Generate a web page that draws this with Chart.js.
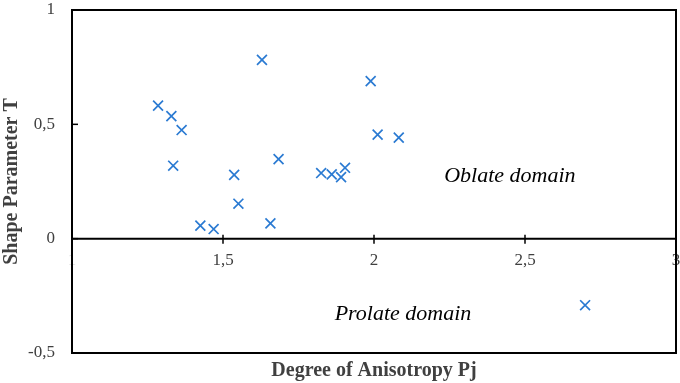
<!DOCTYPE html>
<html><head><meta charset="utf-8">
<script src="https://cdn.jsdelivr.net/npm/chart.js@4.4.1/dist/chart.umd.min.js"></script>
<style>html,body{margin:0;padding:0;background:#fff}canvas{display:block}</style>
</head><body>
<canvas id="c" width="680" height="383"></canvas>
<script>
const pjValues = [1.285,1.329,1.363,1.335,1.425,1.469,1.537,1.551,1.629,1.657,1.684,1.825,1.860,1.891,1.904,1.989,2.012,2.082,2.699];
const tValues  = [0.582,0.536,0.475,0.319,0.057,0.042,0.279,0.153,0.782,0.067,0.348,0.287,0.281,0.269,0.310,0.689,0.455,0.442,-0.291];
const xTickValues = [1,1.5,2,2.5,3];
const xTickLabels = ['1','1,5','2','2,5','3'];
const yTickValues = [-0.5,0,0.5,1];
const yTickLabels = ['-0,5','0','0,5','1'];
const domainLabels = ['Oblate domain','Prolate domain'];
const domainPj = [2.45, 2.096];
const domainT = [0.271, -0.329];
const xTitle = 'Degree of Anisotropy Pj';
const yTitle = 'Shape Parameter T';

const FONT = '"Liberation Serif", "Times New Roman", serif';
const TEXT = '#404040';
const MARK = '#2A7AD2';

const framePlugin = {
  id: 'frame',
  beforeDatasetsDraw(chart) {
    const {ctx, chartArea: a, scales} = chart;
    const xs = scales.x, ys = scales.y;
    const y0 = ys.getPixelForValue(0);
    ctx.save();
    ctx.strokeStyle = '#000';
    ctx.lineWidth = 2;
    ctx.strokeRect(a.left, a.top, a.right - a.left, a.bottom - a.top);
    ctx.beginPath();
    ctx.moveTo(a.left, y0); ctx.lineTo(a.right, y0);
    ctx.stroke();
    ctx.lineWidth = 1.5;
    xs.ticks.forEach(t => {
      const px = xs.getPixelForValue(t.value);
      ctx.beginPath(); ctx.moveTo(px, y0 - 4); ctx.lineTo(px, y0 + 5); ctx.stroke();
    });
    ys.ticks.forEach(t => {
      const py = ys.getPixelForValue(t.value);
      ctx.beginPath(); ctx.moveTo(a.left, py); ctx.lineTo(a.left + 6, py); ctx.stroke();
    });
    ctx.fillStyle = '#000';
    ctx.font = 'italic 22px ' + FONT;
    ctx.textAlign = 'center';
    ctx.textBaseline = 'middle';
    domainLabels.forEach((s, i) => {
      ctx.fillText(s, xs.getPixelForValue(domainPj[i]), ys.getPixelForValue(domainT[i]));
    });
    ctx.restore();
  }
};

new Chart(document.getElementById('c'), {
  type: 'scatter',
  data: {
    datasets: [{
      data: pjValues.map((x, i) => ({x: x, y: tValues[i]})),
      pointStyle: 'crossRot',
      pointRadius: 7,
      borderColor: MARK,
      backgroundColor: MARK,
      borderWidth: 1.7,
      clip: false
    }]
  },
  options: {
    responsive: false,
    devicePixelRatio: 1,
    animation: false,
    layout: {autoPadding: false, padding: {top: 10, right: 4, left: 0, bottom: 0}},
    plugins: {legend: {display: false}, tooltip: {enabled: false}},
    scales: {
      x: {
        type: 'linear', position: {y: 0}, min: 1, max: 3,
        afterBuildTicks: s => { s.ticks = xTickValues.map(v => ({value: v})); },
        afterFit: s => { s.paddingLeft = 0; s.paddingRight = 0; s.paddingTop = 0; s.paddingBottom = 0; },
        ticks: {
          font: {family: FONT, size: 17}, padding: 12, maxRotation: 0, autoSkip: false,
          color: c => (c.tick && c.tick.value === 1) ? '#d8d8d8' : TEXT,
          callback: v => xTickLabels[xTickValues.indexOf(v)]
        },
        grid: {display: false, drawTicks: false},
        border: {display: false}
      },
      x2: {
        type: 'linear', position: 'bottom', min: 1, max: 3,
        ticks: {display: false},
        grid: {display: false, drawTicks: false},
        border: {display: false},
        title: {display: true, text: xTitle, color: TEXT,
                font: {family: FONT, size: 20, weight: 'bold'}, padding: {top: 2, bottom: 0}},
        afterFit: s => { s.height = 30; s.paddingLeft = 0; s.paddingRight = 0; }
      },
      y: {
        type: 'linear', position: 'left', min: -0.5, max: 1,
        afterBuildTicks: s => { s.ticks = yTickValues.map(v => ({value: v})); },
        ticks: {
          font: {family: FONT, size: 17}, padding: 17, color: TEXT,
          callback: v => yTickLabels[yTickValues.indexOf(v)]
        },
        grid: {display: false, drawTicks: false},
        border: {display: false},
        title: {display: true, text: yTitle, color: TEXT,
                font: {family: FONT, size: 20, weight: 'bold'}, padding: {top: 0, bottom: 0}},
        afterFit: s => { s.width = 72; s.paddingTop = 0; s.paddingBottom = 0; s.paddingLeft = 0; s.paddingRight = 0; }
      }
    }
  },
  plugins: [framePlugin]
});
</script>
</body></html>
